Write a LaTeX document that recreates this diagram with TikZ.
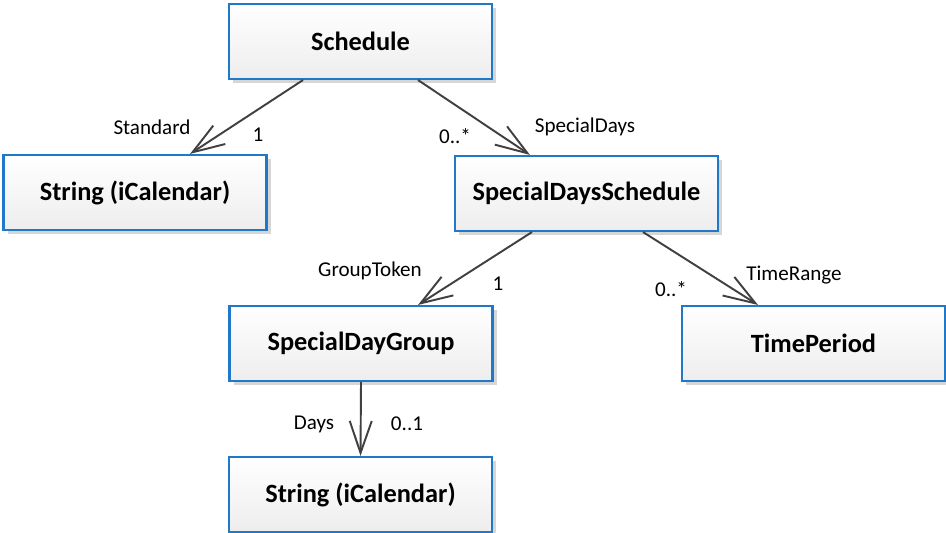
\documentclass[tikz,border=0pt]{standalone}
\usepackage{fontspec}
\setmainfont{Carlito}
\usetikzlibrary{arrows.meta,shadows}

\definecolor{umlblue}{HTML}{1F78C8}
\definecolor{umlline}{HTML}{404040}

\begin{document}
\begin{tikzpicture}[
    classbox/.style={draw=umlblue, line width=1.2pt, top color=white, bottom color=black!7,
       minimum width=5.26cm, minimum height=1.5cm,
       font=\fontsize{15}{17}\selectfont\bfseries,
       drop shadow={shadow xshift=0.08cm, shadow yshift=-0.08cm, fill=black!20, opacity=0.8}},
    assoc/.style={draw=umlline, line width=1.1pt,
       -{Straight Barb[length=0.64cm, width=0.44cm]}},
    rolelabel/.style={font=\fontsize{12}{14}\selectfont, inner sep=0pt}
  ]
  \useasboundingbox (0,0) rectangle (18.92,-10.66);

  \node[classbox] (schedule) at (7.21,-0.83) {Schedule};
  \node[classbox] (stdstring) at (2.70,-3.85) {String (iCalendar)};
  \node[classbox] (spdschedule) at (11.73,-3.87) {SpecialDaysSchedule};
  \node[classbox] (spdgroup) at (7.22,-6.87) {SpecialDayGroup};
  \node[classbox] (timeperiod) at (16.27,-6.87) {TimePeriod};
  \node[classbox] (daystring) at (7.21,-9.89) {String (iCalendar)};

  % associations
  \draw[assoc] ([xshift=-1.15cm]schedule.south) -- ([xshift=1.1cm]stdstring.north);
  \draw[assoc] ([xshift=1.15cm]schedule.south) -- ([xshift=-1.13cm]spdschedule.north);
  \draw[assoc] ([xshift=-1.09cm]spdschedule.south) -- ([xshift=1.14cm]spdgroup.north);
  \draw[assoc] ([xshift=1.13cm]spdschedule.south) -- ([xshift=-1.11cm]timeperiod.north);
  \draw[assoc] (spdgroup.south) -- (daystring.north);

  % role names and multiplicities
  \node[rolelabel] (lstandard) at (3.04,-2.54) {Standard};
  \node[rolelabel] (mstandard) at (5.16,-2.70) {1};
  \node[rolelabel] (mspecial) at (9.10,-2.72) {0..*};
  \node[rolelabel] (lspecial) at (11.70,-2.54) {SpecialDays};
  \node[rolelabel] (lgroup) at (7.40,-5.42) {GroupToken};
  \node[rolelabel] (mgroup) at (9.96,-5.68) {1};
  \node[rolelabel] (mrange) at (13.42,-5.78) {0..*};
  \node[rolelabel] (lrange) at (15.88,-5.50) {TimeRange};
  \node[rolelabel] (ldays) at (6.28,-8.48) {Days};
  \node[rolelabel] (mdays) at (8.14,-8.48) {0..1};
\end{tikzpicture}
\end{document}
